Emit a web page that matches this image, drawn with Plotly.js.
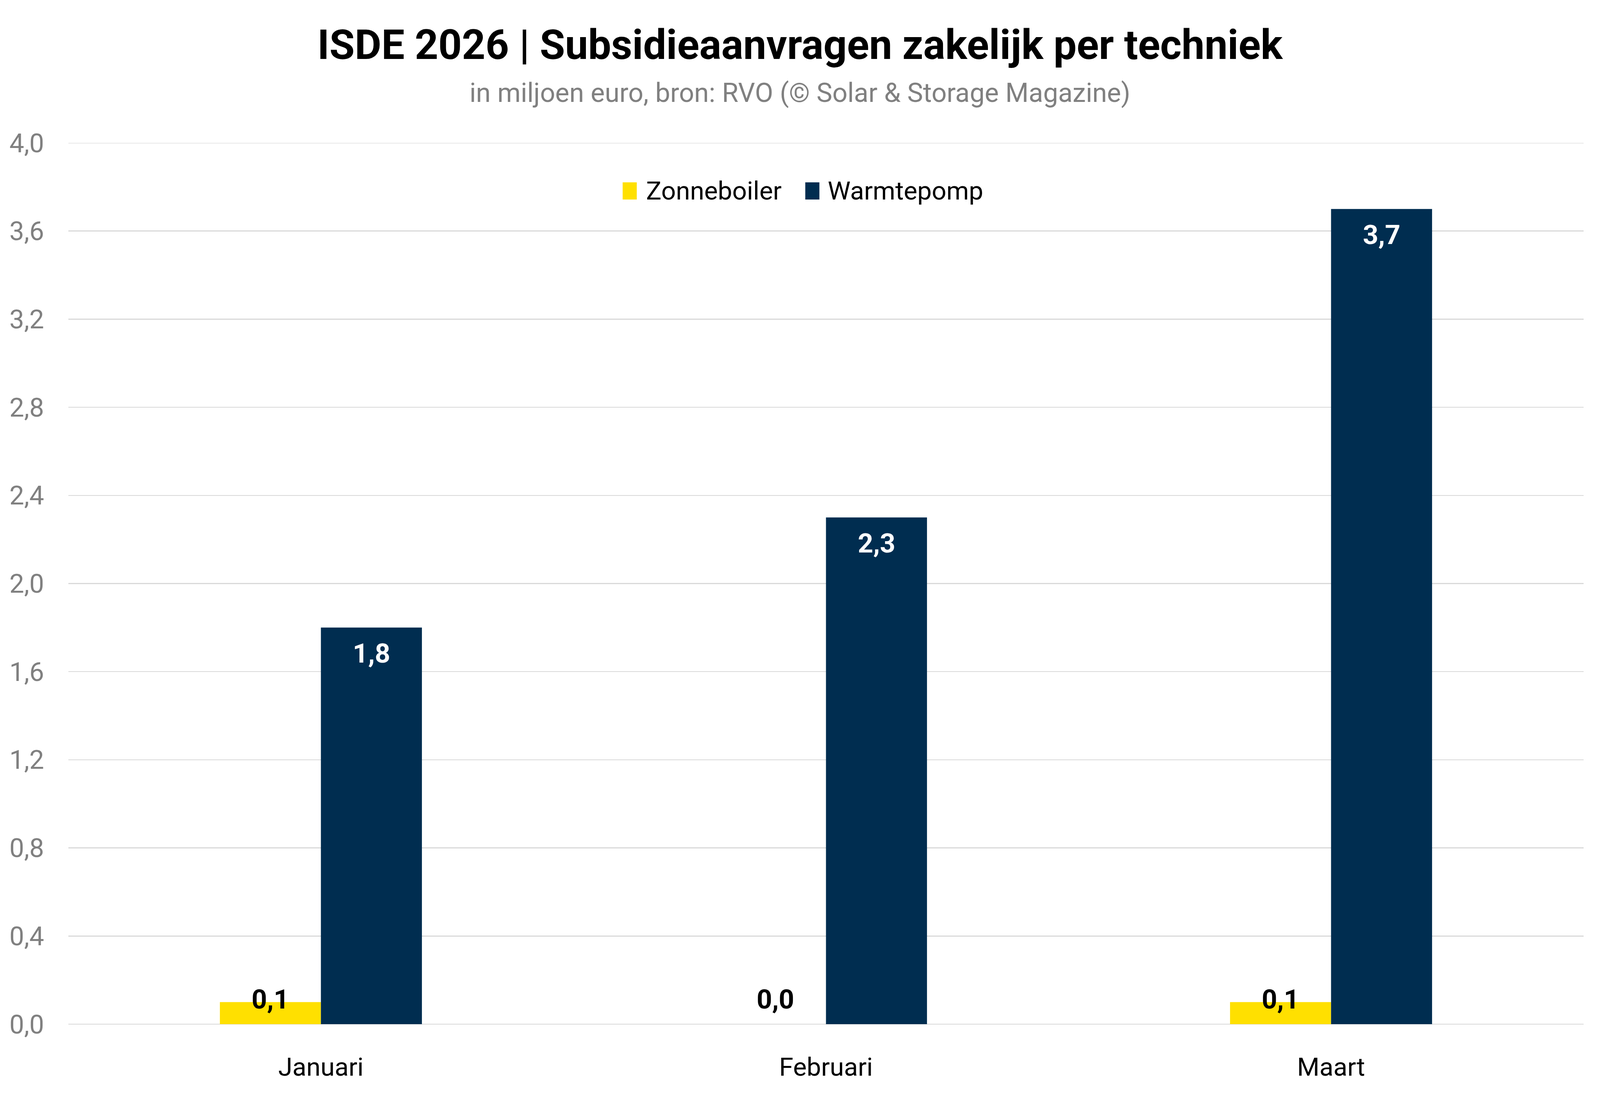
<!DOCTYPE html>
<html>
<head>
<meta charset="utf-8">
<script src="https://cdn.plot.ly/plotly-3.0.1.min.js"></script>
<style>html,body{margin:0;padding:0;background:#fff;overflow:hidden;}</style>
</head>
<body>
<div id="chart"></div>
<script>
// ---- Data ----
const categories = ["Januari", "Februari", "Maart"];
const zonneboiler = [0.1, 0.0, 0.1];
const warmtepomp = [1.8, 2.3, 3.7];
const seriesNames = ["Zonneboiler", "Warmtepomp"];
const yTickVals = [0, 0.4, 0.8, 1.2, 1.6, 2.0, 2.4, 2.8, 3.2, 3.6, 4.0];

// ---- Geometry (reference designed at 4985 x 2807, scaled to the viewport) ----
const REF_W = 4985, REF_H = 2807;
const W = window.innerWidth || REF_W;
const H = window.innerHeight || REF_H;
const sx = W / REF_W, sy = H / REF_H, s = Math.min(sx, sy);
const M = {l: 213 * sx, r: 51 * sx, t: 366 * sy, b: 184 * sy};
const plotW = W - M.l - M.r;
const plotH = H - M.t - M.b;
const catPx = plotW / categories.length;
const barOffsetPx = catPx * 0.1;
const YELLOW = "#FFE000";
const NAVY = "#002D50";
const GRID = "#d9d9d9";
const FONT = "Roboto, 'Open Sans', sans-serif";

const fmt = v => v.toFixed(1).replace(".", ",");

const traces = [
  {type: "bar", name: seriesNames[0], x: categories, y: zonneboiler,
   marker: {color: YELLOW}, showlegend: false, hoverinfo: "x+y"},
  {type: "bar", name: seriesNames[1], x: categories, y: warmtepomp,
   marker: {color: NAVY}, showlegend: false, hoverinfo: "x+y"}
];

// helpers: reference pixel -> paper coords
const px2x = px => (px * sx - M.l) / plotW;
const px2y = py => (H - M.b - py * sy) / plotH;

const annotations = [];
// Subtitle
annotations.push({
  xref: "paper", yref: "paper", x: px2x(REF_W / 2), y: px2y(238),
  xanchor: "center", yanchor: "middle", showarrow: false,
  text: "in miljoen euro, bron: RVO (© Solar &amp; Storage Magazine)",
  font: {family: FONT, size: 83 * s, color: "#808080"}
});
// Data labels
categories.forEach((c, i) => {
  annotations.push({
    x: c, y: 0, xref: "x", yref: "y", xshift: -barOffsetPx, yshift: 64 * sy,
    xanchor: "center", yanchor: "middle", showarrow: false,
    text: fmt(zonneboiler[i]),
    font: {family: FONT, size: 84 * s, color: "#000000", weight: "bold"}
  });
  annotations.push({
    x: c, y: warmtepomp[i], xref: "x", yref: "y", xshift: barOffsetPx, yshift: -66 * sy,
    xanchor: "center", yanchor: "middle", showarrow: false,
    text: fmt(warmtepomp[i]),
    font: {family: FONT, size: 84 * s, color: "#FFFFFF", weight: "bold"}
  });
});

// Custom legend (large squares)
const legendItems = [
  {name: seriesNames[0], color: YELLOW, sq: 1940, tx: 2010},
  {name: seriesNames[1], color: NAVY, sq: 2509, tx: 2576}
];
const shapes = [];
legendItems.forEach(it => {
  shapes.push({type: "rect", xref: "paper", yref: "paper",
    x0: px2x(it.sq), x1: px2x(it.sq + 44), y0: px2y(511), y1: px2y(467),
    fillcolor: it.color, line: {width: 0}});
  annotations.push({xref: "paper", yref: "paper", x: px2x(it.tx), y: px2y(488),
    xanchor: "left", yanchor: "middle", showarrow: false, text: it.name,
    font: {family: FONT, size: 80 * s, color: "#000000"}});
});
// top gridline at the axis maximum (Plotly omits the grid line at the range edge)
const yMax = yTickVals[yTickVals.length - 1];
shapes.push({type: "line", xref: "paper", yref: "y", x0: 0, x1: 1, y0: yMax, y1: yMax,
  line: {color: GRID, width: Math.max(1, 3 * s)}, layer: "below"});

const layout = {
  width: W, height: H,
  margin: {l: M.l, r: M.r, t: M.t, b: M.b, pad: 0},
  paper_bgcolor: "#ffffff", plot_bgcolor: "#ffffff",
  separators: ",.",
  title: {
    text: "<b>ISDE 2026 | Subsidieaanvragen zakelijk per techniek</b>",
    x: 0.5, xref: "container", xanchor: "center",
    y: 1 - 114 / REF_H, yref: "container", yanchor: "middle",
    font: {family: FONT, size: 128 * s, color: "#000000"}
  },
  barmode: "group", bargap: 0.6, bargroupgap: 0,
  showlegend: false,
  xaxis: {
    type: "category", categoryorder: "array", categoryarray: categories,
    range: [-0.5, 2.5], showgrid: false, showline: false, zeroline: false,
    ticks: "", ticklabelstandoff: 65 * sy,
    tickfont: {family: FONT, size: 80 * s, color: "#000000"}
  },
  yaxis: {
    range: [0, yMax], tickmode: "array", tickvals: yTickVals,
    ticktext: yTickVals.map(fmt),
    showgrid: true, gridcolor: GRID, gridwidth: Math.max(1, 3 * s),
    zeroline: true, zerolinecolor: GRID, zerolinewidth: Math.max(1, 3 * s),
    showline: false, ticks: "outside", ticklen: 58 * sx, tickcolor: "rgba(0,0,0,0)",
    tickfont: {family: FONT, size: 82 * s, color: "#808080"}
  },
  annotations: annotations,
  shapes: shapes
};

document.getElementById("chart").style.width = W + "px";
document.getElementById("chart").style.height = H + "px";
Plotly.newPlot("chart", traces, layout, {displayModeBar: false, staticPlot: true});
</script>
</body>
</html>
